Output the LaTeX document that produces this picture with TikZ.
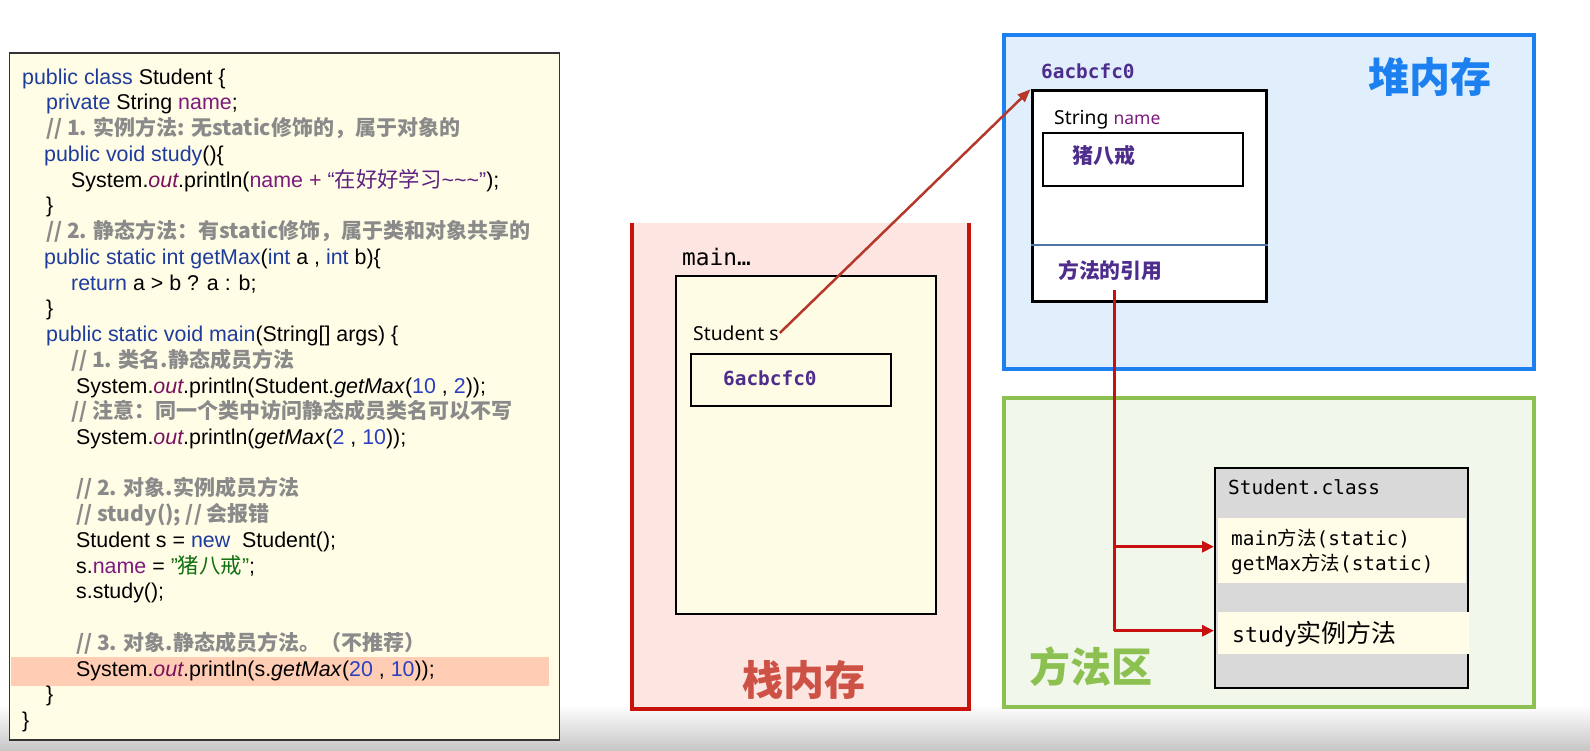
\documentclass[tikz,border=0pt]{standalone}
\usepackage{fontspec}
\setmainfont{Liberation Sans}
\newfontfamily\cjk{Noto Sans CJK SC}
\newfontfamily\monof{DejaVu Sans Mono}
\newfontfamily\notof{Noto Sans}
\usetikzlibrary{positioning,arrows.meta}

\definecolor{kwblue}{HTML}{1E3B9E}
\definecolor{fldpurple}{HTML}{7D1A7D}
\definecolor{outpurple}{HTML}{7B1060}
\definecolor{numblue}{HTML}{2A40C0}
\definecolor{strgreen}{HTML}{107010}
\definecolor{strpurple}{HTML}{5E2080}
\definecolor{cmgray}{HTML}{8A8A8A}
\definecolor{codebg}{HTML}{FFFDE6}
\definecolor{hiline}{HTML}{FFCDB4}
\definecolor{stackred}{HTML}{C8120A}
\definecolor{stackfill}{HTML}{FDE5E2}
\definecolor{stacklbl}{HTML}{CD5245}
\definecolor{heapblue}{HTML}{1C80F0}
\definecolor{heapfill}{HTML}{E1EFFD}
\definecolor{methgreen}{HTML}{8CC152}
\definecolor{methfill}{HTML}{F1F8EB}
\definecolor{framebg}{HTML}{FFFCE6}
\definecolor{addrpurple}{HTML}{4E2D8C}
\definecolor{refred}{HTML}{C81010}
\definecolor{ptrred}{HTML}{B5382A}
\definecolor{sepblue}{HTML}{4F74A6}
\definecolor{clsgray}{HTML}{D9D9D9}
\definecolor{bandbg}{HTML}{FFFDE7}

\newcommand\kw[1]{\textcolor{kwblue}{#1}}
\newcommand\fld[1]{\textcolor{fldpurple}{#1}}
\newcommand\outv{\textcolor{outpurple}{\itshape out}}
\newcommand\num[1]{\textcolor{numblue}{#1}}
\newcommand\zh[1]{{\cjk #1}}

\begin{document}
\begin{tikzpicture}[x=1pt,y=-1pt,
  code/.style={anchor=base west,inner sep=0pt,font=\fontsize{21.4}{25}\selectfont},
  cmt/.style={code,text=cmgray,font=\cjk\bfseries\fontsize{21}{25}\selectfont},
  box/.style={draw=black,inner sep=0pt},
  mono/.style={anchor=west,inner sep=1pt,font=\monof\fontsize{19.4}{24}\selectfont},
  addr/.style={mono,text=addrpurple,font=\monof\bfseries\fontsize{19.4}{24}\selectfont},
  area/.style={font=\cjk\bfseries\fontsize{41}{45}\selectfont},
  refline/.style={refred,line width=3pt},
  >={Triangle[length=12pt,width=11pt]}]
  \useasboundingbox (0,0) rectangle (1590,750);
  \shade[top color=white,bottom color=black!22] (0,705) rectangle (1590,750);

  % code panel
  \draw[fill=codebg,draw=black!80,line width=1.2pt] (9.6,53) rectangle (559.5,740);
  \fill[hiline] (10.7,656.7) rectangle (549,685.7);
  \node[code] (l1) at (22,84.2) {\kw{public class} Student \{};
  \node[code] (l2) at (46,109.9) {\kw{private} String \fld{name};};
  \node[cmt] (l3) at (46,135.7) {// 1. 实例方法: 无static修饰的，属于对象的};
  \node[code] (l4) at (44,161.4) {\kw{public void study}()\{};
  \node[code] (l5) at (71,187.1) {System.\outv.println(\fld{name +} \textcolor{strpurple}{“\zh{在好好学习}\textasciitilde\textasciitilde\textasciitilde”});};
  \node[code] (l6) at (46,212.9) {\}};
  \node[cmt] (l7) at (46,238.6) {// 2. 静态方法：有static修饰，属于类和对象共享的};
  \node[code] (l8) at (44,264.3) {\kw{public static int getMax}(\kw{int} a , \kw{int} b)\{};
  \node[code] (l9) at (71,290.0) {\kw{return} a > b ? a : b;};
  \node[code] (l10) at (46,315.8) {\}};
  \node[code] (l11) at (46,341.5) {\kw{public static void main}(String[] args) \{};
  \node[cmt] (l12) at (71,367.2) {// 1. 类名.静态成员方法};
  \node[code] (l13) at (76,393.0) {System.\outv.println(Student.\textit{getMax}(\num{10} , \num{2}));};
  \node[cmt] (l14) at (71,418.7) {// 注意：同一个类中访问静态成员类名可以不写};
  \node[code] (l15) at (76,444.4) {System.\outv.println(\textit{getMax}(\num{2} , \num{10}));};
  \node[cmt] (l17) at (76,495.9) {// 2. 对象.实例成员方法};
  \node[cmt] (l18) at (76,521.6) {// study(); // 会报错};
  \node[code] (l19) at (76,547.3) {Student s = \kw{new}\ \ Student();};
  \node[code] (l20) at (76,573.0) {s.\fld{name} = \textcolor{strgreen}{"\zh{猪八戒}"};};
  \node[code] (l21) at (76,598.8) {s.study();};
  \node[cmt] (l23) at (76,650.3) {// 3. 对象.静态成员方法。（不推荐）};
  \node[code] (l24) at (76,676.0) {System.\outv.println(s.\textit{getMax}(\num{20} , \num{10}));};
  \node[code] (l25) at (46,701.7) {\}};
  \node[code] (l26) at (22,727.4) {\}};

  % stack
  \fill[stackfill] (632,223) rectangle (969,709);
  \draw[stackred,line width=4pt] (632,223) -- (632,709) -- (969,709) -- (969,223);
  \node[anchor=west,inner sep=0pt,font=\monof\fontsize{22.8}{26}\selectfont] (mainlbl) at (682,257) {main…};
  \node[box,fill=framebg,line width=2pt,minimum width=260pt,minimum height=338pt] (frame) at (806,445) {};
  \node[anchor=west,inner sep=1pt,font=\notof\fontsize{19.3}{23}\selectfont] (svar) at (692,333) {Student s};
  \node[box,fill=framebg,line width=2.5pt,minimum width=200pt,minimum height=52pt] (valbox) at (791,380) {};
  \node[addr] (sval) at (722,378) {6acbcfc0};
  \node[area,text=stacklbl] (stacklbl) at (804,680) {栈内存};

  % heap
  \draw[heapblue,fill=heapfill,line width=4pt] (1004,35) rectangle (1534,369);
  \node[addr] (haddr) at (1040,71.7) {6acbcfc0};
  \node[area,text=heapblue] (heaplbl) at (1430,76.7) {堆内存};
  \node[box,fill=white,line width=3pt,minimum width=234pt,minimum height=211pt] (obj) at (1149,196.3) {};
  \node[anchor=west,inner sep=1pt,font=\notof\fontsize{19.3}{23}\selectfont] (fldlbl) at (1053,120) {String \textcolor{fldpurple}{\fontsize{17.5}{20}\selectfont name}};
  \node[box,fill=white,line width=2.5pt,minimum width=200pt,minimum height=53pt] (namebox) at (1143,159.5) {};
  \node[anchor=west,inner sep=1pt,text=addrpurple,font=\cjk\bfseries\fontsize{21}{24}\selectfont] (nameval) at (1071,155) {猪八戒};
  \draw[sepblue,line width=2.5pt] (obj.west |- 0,245) -- (obj.east |- 0,245);
  \node[anchor=west,inner sep=1pt,text=addrpurple,font=\cjk\bfseries\fontsize{20.8}{24}\selectfont] (mref) at (1057,270) {方法的引用};

  % method area
  \draw[methgreen,fill=methfill,line width=4pt] (1004,398) rectangle (1534,707);
  \node[area,text=methgreen] (methlbl) at (1091,667) {方法区};
  \node[box,fill=clsgray,line width=2pt,minimum width=253pt,minimum height=220pt] (cls) at (1341.5,578) {};
  \fill[bandbg] (1218,518) rectangle (1466,583);
  \fill[bandbg] (1218,612) rectangle (1469,654);
  \node[mono] (clsname) at (1227,487.7) {Student.class};
  \node[mono] (m1) at (1230,539) {main\zh{方法}(static)};
  \node[mono] (m2) at (1230,564) {getMax\zh{方法}(static)};
  \node[mono,font=\monof\fontsize{21.5}{26}\selectfont] (m3) at (1231,634) {study{\cjk\fontsize{25}{28}\selectfont 实例方法}};

  % references
  \draw[ptrred,line width=2.5pt,-{Triangle[length=13pt,width=10pt]}] (svar.east) -- (obj.north west);
  \coordinate (ref) at (1114,290);
  \coordinate (br1) at (1114,546.7);
  \coordinate (br2) at (1114,630.7);
  \draw[refline] (ref) -- (br2);
  \draw[refline,->] (br1) -- (br1 -| cls.west);
  \draw[refline,->] (br2) -- (br2 -| cls.west);
\end{tikzpicture}
\end{document}
